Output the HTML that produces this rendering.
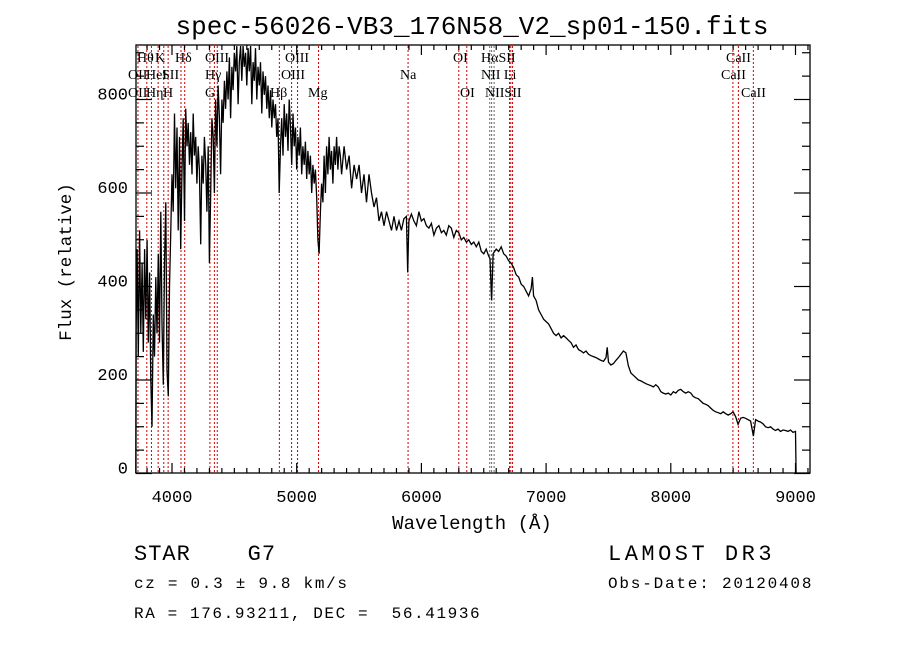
<!DOCTYPE html>
<html><head><meta charset="utf-8"><style>
html,body{margin:0;padding:0;background:#fff;}
svg{display:block;}
.m{font-family:"Liberation Mono",monospace;fill:#000;white-space:pre;}
.s{font-family:"Liberation Serif",serif;font-size:14px;fill:#000;}
</style></head><body>
<svg id="chart" width="900" height="649" viewBox="0 0 900 649">
<rect width="900" height="649" fill="#fff"/>
<text class="m" x="472" y="34" font-size="26" text-anchor="middle">spec-56026-VB3_176N58_V2_sp01-150.fits</text>
<text class="m" x="472" y="529" font-size="19" text-anchor="middle">Wavelength (Å)</text>
<text class="m" x="0" y="0" font-size="17.5" text-anchor="middle" transform="translate(71,262) rotate(-90)">Flux (relative)</text>
<g id="lines"></g>
<g id="labels"></g>
<g id="ticks"></g>
<polyline id="spec" fill="none" stroke="#000" stroke-width="1.3"/>
<rect x="136" y="45" width="674" height="428" fill="none" stroke="#000" stroke-width="1.3"/>
<text class="m" x="134" y="560" font-size="22" letter-spacing="1.0" xml:space="preserve">STAR    G7</text>
<text class="m" x="608" y="560" font-size="22" letter-spacing="3.5">LAMOST DR3</text>
<text class="m" x="134" y="588" font-size="16" letter-spacing="1.7">cz = 0.3 ± 9.8 km/s</text>
<text class="m" x="608" y="588" font-size="16" letter-spacing="1.8">Obs-Date: 20120408</text>
<text class="m" x="134" y="618" font-size="16" letter-spacing="1.6" xml:space="preserve">RA = 176.93211, DEC =  56.41936</text>
</svg>
<script>
const xTicks=[4000,5000,6000,7000,8000,9000];
const yTicks=[0,200,400,600,800];
const lineWaves=[3727,3798,3835,3889,3934,3969,4072,4102,4304,4340,4363,4861,4959,5007,5175,5893,6300,6364,6548,6563,6583,6707,6717,6731,8498,8542,8662];
const waves=[3710,3712,3720,3730,3740,3750,3760,3770,3780,3790,3800,3810,3820,3830,3840,3850,3860,3870,3880,3890,3900,3910,3920,3930,3940,3950,3960,3970,3980,3990,
4000,4010,4020,4030,4040,4050,4060,4070,4080,4090,4100,4110,4120,4130,4140,4150,4160,4170,4180,4190,4200,4210,4220,4230,4240,4250,4260,4270,4280,4290,4300,4310,4320,4330,4340,4350,4360,4370,4380,4390,4400,
4410,4420,4430,4440,4450,4460,4470,4480,4490,4500,4510,4520,4530,4540,4550,4560,4570,4580,4590,4600,4610,4620,4630,4640,4650,4660,4670,4680,4690,4700,4710,4720,4730,4740,4750,4760,4770,4780,4790,4800,4810,4820,4830,4840,4850,4860,4870,4880,4890,4900,4910,4920,4930,4940,4950,4960,4970,4980,4990,5000,5010,5020,5030,5040,5050,5060,5070,5080,5090,5100,5110,5120,5130,5140,5150,5160,5170,5180,5190,5200,5210,5220,5230,5240,5250,5260,5270,5280,5290,5300,5310,5320,5330,5340,5350,5360,5380,5400,5420,5440,5460,5480,5500,5520,5540,5560,5580,5600,5620,5640,5660,5680,5700,5720,5740,5760,5780,5800,5820,5840,5860,5880,5890,5900,5920,5940,5960,5980,6000,6020,6040,6060,6080,6100,6120,6140,6160,6180,6200,6220,6240,6260,6280,6300,6320,6340,6360,6380,6400,6420,6440,6460,6480,6500,6520,6540,6550,6563,6575,6600,6620,6640,6660,6680,6700,6720,6740,6760,6780,6800,6820,6840,6860,6880,6890,6900,6920,6940,6960,6980,7000,7020,7040,7060,7080,7100,7120,7140,7160,7180,7200,7220,7240,7260,7280,7300,7320,7340,7360,7380,7400,7420,7440,7460,7480,7490,7500,7520,7540,7560,7580,7600,7620,7640,7660,7680,7700,7720,7740,7760,7780,7800,7820,7840,7860,7880,7900,7920,7940,7960,7980,8000,8020,8040,8060,8080,8100,8120,8140,8160,8180,8200,8220,8240,8260,8280,8300,8320,8340,8360,8380,8400,8420,8440,8460,8480,8500,8520,8540,8560,8580,8600,8620,8640,8662,8680,8700,8720,8740,8760,8780,8800,8820,8840,8860,8880,8900,8920,8940,8960,8980,9000,9005];
const flux=[0,300,480,250,520,300,450,260,480,330,500,280,430,200,100,340,250,420,300,470,280,560,320,190,450,580,220,165,400,520,
640,560,770,610,740,520,720,480,650,760,540,780,700,750,660,730,640,770,680,720,620,700,650,490,680,620,720,660,560,700,450,600,760,720,600,800,700,830,760,640,800,
750,840,780,860,800,890,760,870,820,900,860,930,790,880,920,840,930,870,900,830,910,860,930,790,880,840,910,800,870,830,880,770,860,810,850,780,830,760,820,740,800,760,790,720,760,600,700,760,680,790,720,770,690,800,740,660,770,700,740,650,720,680,740,640,700,660,710,630,690,640,680,600,660,620,650,590,500,470,560,620,580,680,600,700,640,720,650,690,620,700,660,720,650,700,680,640,700,650,680,610,660,630,660,600,640,580,640,600,570,590,540,560,530,560,540,520,550,520,540,520,545,550,430,540,555,540,530,560,540,545,530,525,535,510,525,530,515,520,510,530,525,505,520,515,500,505,495,500,490,495,485,495,475,470,480,465,460,370,470,480,475,485,470,465,455,450,440,425,420,405,400,390,380,395,420,380,370,350,340,330,325,320,310,300,295,300,290,295,290,285,280,270,275,265,262,258,262,255,252,250,248,245,242,240,248,270,238,232,235,242,248,255,262,258,230,215,210,205,200,198,195,192,190,188,185,190,185,175,172,170,172,168,175,172,178,180,175,172,175,172,165,162,160,155,150,148,145,140,135,132,130,128,132,128,125,128,132,122,105,118,120,118,115,112,80,115,112,110,106,100,98,100,95,92,95,90,93,92,90,93,88,90,0];
const labelTexts=["Hθ","K","Hδ","OIII","OIII","OI","HαSII","CaII","OII","HeI","SII","Hγ","OIII","Na","NII Li","CaII","OII","Hη","H","G","Hβ","Mg","OI","NIISII","CaII"];
const NS="http://www.w3.org/2000/svg";
function xs(w){return 172+(w-4000)*0.1247;}
function ys(v){return 473.5-v*0.4675;}
function mk(t,a){const e=document.createElementNS(NS,t);for(const k in a)e.setAttribute(k,a[k]);return e;}
const L=document.getElementById('lines');
lineWaves.forEach(w=>{const x=xs(w);
const e=mk('line',{x1:x,x2:x,y1:46,y2:472,stroke:(w>6540&&w<6590)?'#666':'#c00',"stroke-width":1,"stroke-dasharray":"2,2"});


L.appendChild(e);});
const labelPos=[[137,1],[155,1],[175,1],[205,1],[285,1],[453,1],[481,1],[726,1],[128,2],[146,2],[162,2],[205,2],[281,2],[400,2],[481,2],[721,2],[128,3],[146,3],[163,3],[205,3],[270,3],[308,3],[460,3],[485,3],[741,3]];
const rowY={1:62,2:79,3:97};
const LB=document.getElementById('labels');
labelTexts.forEach((t,i)=>{const p=labelPos[i];
const e=mk('text',{x:p[0],y:rowY[p[1]],class:'s'});e.textContent=t;


LB.appendChild(e);});
const T=document.getElementById('ticks');
for(let w=3800;w<=9100;w+=100){const x=xs(w);const maj=w%1000===0;const len=maj?10:5;
[[473,473-len],[45,45+len]].forEach(a=>{const e=mk('line',{x1:x,x2:x,y1:a[0],y2:a[1],stroke:'#000','stroke-width':1.2});


T.appendChild(e);});}
for(let v=0;v<=900;v+=50){const y=ys(v);const maj=v%200===0;const len=maj?16:8;
[[136,136+len],[810,810-len]].forEach(a=>{const e=mk('line',{x1:a[0],x2:a[1],y1:y,y2:y,stroke:'#000','stroke-width':1.2});


T.appendChild(e);});}
xTicks.forEach(w=>{const e=mk('text',{x:xs(w),y:502,class:'m','font-size':17,'text-anchor':'middle'});e.textContent=w;


T.appendChild(e);});
yTicks.forEach(v=>{const e=mk('text',{x:128,y:ys(v)+0,class:'m','font-size':17,'text-anchor':'end'});e.textContent=v;


T.appendChild(e);});
const pts=waves.map((w,i)=>xs(w).toFixed(1)+','+Math.max(46,ys(flux[i])).toFixed(1)).join(' ');
document.getElementById('spec').setAttribute('points',pts);
</script>
</body></html>
